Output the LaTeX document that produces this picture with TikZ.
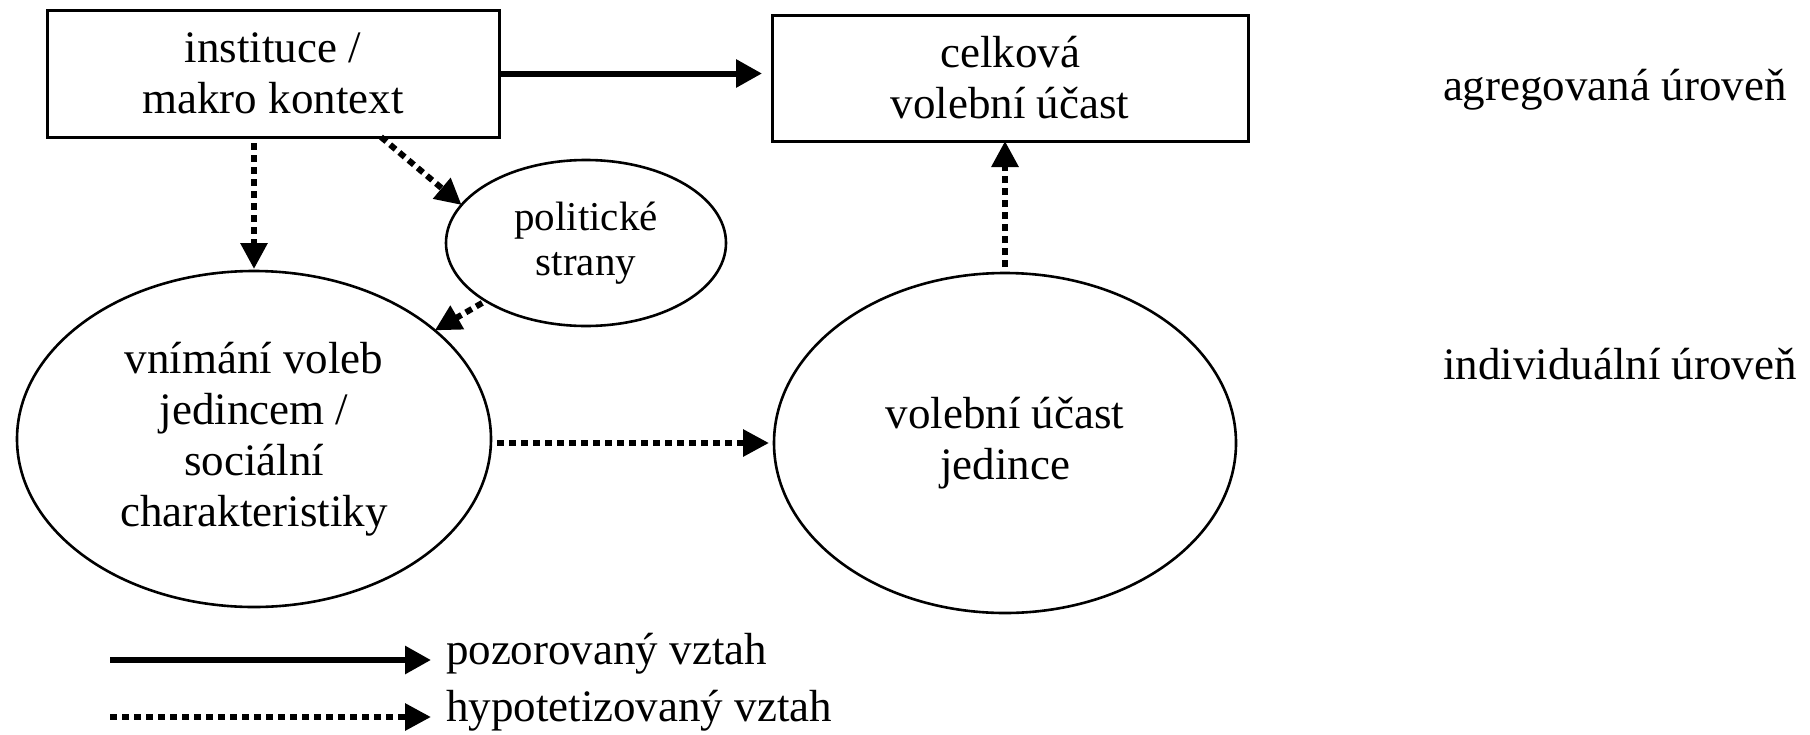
\documentclass[tikz,border=0pt]{standalone}
\usepackage{fontspec}
\setmainfont{Liberation Serif}
\usetikzlibrary{arrows.meta,shapes.geometric,calc}
\begin{document}
\begin{tikzpicture}[x=0.5pt,y=-0.5pt,
  txt/.style={font=\fontsize{22.5}{25.5}\selectfont},
  box/.style={draw,line width=1.5pt,rectangle,inner sep=0pt,outer sep=0pt,align=center,txt},
  oval/.style={draw,line width=1.3pt,ellipse,inner sep=0pt,outer sep=0pt,align=center,txt},
  solidarr/.style={line width=3pt,-{Triangle[length=13pt,width=13.5pt]}},
  dotarr/.style={line width=3pt,dash pattern=on 3.5pt off 2.5pt,-{Triangle[length=13pt,width=13pt]}},
  lbl/.style={inner sep=0pt,outer sep=0pt,anchor=mid west,txt}]
\useasboundingbox (0,0) rectangle (1810,734);
% nodes
\node[box,minimum width=226pt,minimum height=63.5pt] (inst) at (273,73.5) {instituce /\\makro kontext};
\node[box,minimum width=238pt,minimum height=63pt] (celk) at (1010,78) {celková\\volební účast};
\node[oval,minimum width=140pt,minimum height=83pt,font=\fontsize{20.5}{22.5}\selectfont] (pol) at (586,243) {politické\\strany};
\node[oval,minimum width=237pt,minimum height=168pt] (vnim) at (254,439) {vnímání voleb\\jedincem /\\sociální\\charakteristiky};
\node[oval,minimum width=231pt,minimum height=170pt] (vol) at (1005,443) {volební účast\\jedince};
% level labels
\node[lbl] (agr) at (1443,96) {agregovaná úroveň};
\node[lbl] (ind) at (1443,375) {individuální úroveň};
% connectors
\draw[solidarr,shorten >=5pt] (inst.east) -- (inst.east -| celk.west);
\draw[dotarr,shorten <=3pt,shorten >=1pt] (vnim.north |- inst.south) -- (vnim.north);
\draw[dotarr] ($(inst.south)+(108,0)$) -- (pol.163);
\draw[dotarr,shorten <=2pt] (pol.210) -- (vnim.31);
\draw[dotarr,shorten <=3pt,shorten >=2.5pt] (vnim.east |- vol.west) -- (vol.west);
\draw[dotarr,shorten <=3pt] (vol.north) -- (vol.north |- celk.south);
% legend
\coordinate (l1a) at (110,660);
\coordinate (l1b) at (431,660);
\coordinate (l2a) at (110,717);
\coordinate (l2b) at (431,717);
\draw[solidarr] (l1a) -- (l1b);
\draw[dotarr] (l2a) -- (l2b);
\node[lbl] (lt1) at (446,660) {pozorovaný vztah};
\node[lbl] (lt2) at (446,717) {hypotetizovaný vztah};
\end{tikzpicture}
\end{document}
